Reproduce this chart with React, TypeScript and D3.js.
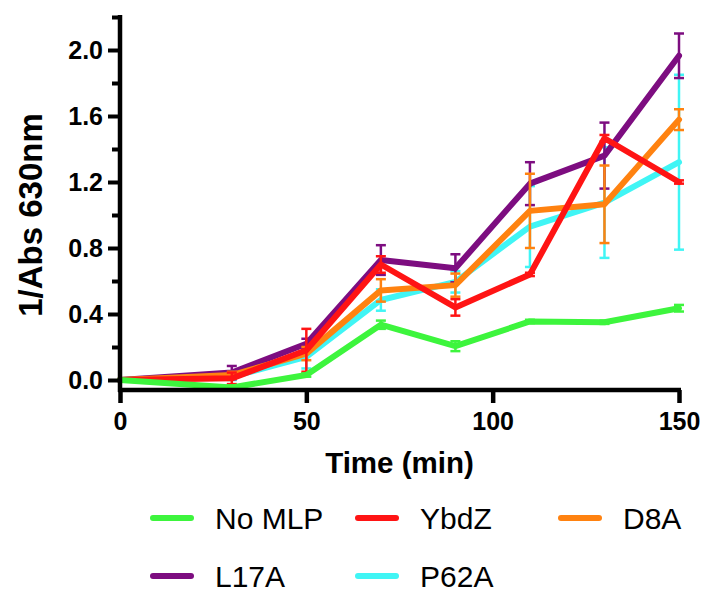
import React, { useEffect, useRef } from 'react';
import * as d3 from 'd3';

// time points (min)
const times = [0, 30, 50, 70, 90, 110, 130, 150];

const seriesNames = ['No MLP', 'YbdZ', 'D8A', 'L17A', 'P62A'];
const seriesColors = ['#3df53d', '#ff1414', '#ff8210', '#7d0d80', '#40f5f5'];

// 1/Abs 630nm
const noMlp = [0, -0.045, 0.03, 0.335, 0.205, 0.355, 0.35, 0.435];
const ybdZ = [0, 0.01, 0.18, 0.7, 0.44, 0.64, 1.465, 1.2];
const d8a = [0, 0.03, 0.16, 0.543, 0.575, 1.025, 1.065, 1.578];
const l17a = [0, 0.045, 0.22, 0.727, 0.677, 1.19, 1.36, 1.965];
const p62a = [0, 0.02, 0.14, 0.485, 0.595, 0.93, 1.075, 1.32];

// error bars (+/-)
const noMlpErr = [0, 0.012, 0.01, 0.025, 0.03, 0.01, 0.01, 0.02];
const ybdZErr = [0, 0.035, 0.13, 0.05, 0.05, 0.01, 0.02, 0.01];
const d8aErr = [0, 0.02, 0.04, 0.068, 0.07, 0.225, 0.235, 0.063];
const l17aErr = [0, 0.04, 0.03, 0.09, 0.085, 0.13, 0.2, 0.135];
const p62aErr = [0, 0.02, 0.07, 0.065, 0.065, 0.245, 0.335, 0.53];

const seriesValues = [noMlp, ybdZ, d8a, l17a, p62a];
const seriesErrors = [noMlpErr, ybdZErr, d8aErr, l17aErr, p62aErr];

const xTicks = [0, 50, 100, 150];
const yTicks = [0, 0.4, 0.8, 1.2, 1.6, 2.0];
const yMinorTicks = [0.2, 0.6, 1.0, 1.4, 1.8, 2.2];

const FONT = '"Liberation Sans", Arial, Helvetica, sans-serif';

const App: React.FC = () => {
    const chartRef = useRef<SVGSVGElement>(null);

    useEffect(() => {
        const svg = d3.select(chartRef.current);
        svg.selectAll('*').remove();

        const x = d3.scaleLinear().domain([0, 150]).range([120, 679]);
        const y = d3.scaleLinear().domain([0, 2.2]).range([380, 17]);
        const xAxisY = y(0) + 10;

        // series, last legend entry at the bottom
        const order = d3.range(seriesNames.length).reverse();
        order.forEach(i => {
            const vals = seriesValues[i];
            const errs = seriesErrors[i];
            const color = seriesColors[i];
            const g = svg.append('g');

            const line = d3.line<number>()
                .x((_, j) => x(times[j]))
                .y(d => y(d));

            g.append('path')
                .datum(vals)
                .attr('d', line)
                .attr('fill', 'none')
                .attr('stroke', color)
                .attr('stroke-width', 6)
                .attr('stroke-linejoin', 'round')
                .attr('stroke-linecap', 'round');

            const pts = times.map((t, j) => ({ t, v: vals[j], e: errs[j] })).filter(p => p.e > 0);

            g.selectAll('.bar')
                .data(pts)
                .enter().append('line')
                .attr('x1', d => x(d.t))
                .attr('x2', d => x(d.t))
                .attr('y1', d => y(d.v - d.e))
                .attr('y2', d => y(d.v + d.e))
                .attr('stroke', color)
                .attr('stroke-width', 2.5);

            [-1, 1].forEach(s => {
                g.selectAll('.cap' + s)
                    .data(pts)
                    .enter().append('line')
                    .attr('x1', d => x(d.t) - 5)
                    .attr('x2', d => x(d.t) + 5)
                    .attr('y1', d => y(d.v + s * d.e))
                    .attr('y2', d => y(d.v + s * d.e))
                    .attr('stroke', color)
                    .attr('stroke-width', 2.5);
            });
        });

        // y axis
        const yAxis = svg.append('g')
            .attr('transform', `translate(${x(0)},0)`)
            .call(d3.axisLeft(y).tickValues(yTicks).tickSize(12).tickPadding(5)
                .tickFormat(d => d3.format('.1f')(d as number)));
        svg.append('g')
            .attr('transform', `translate(${x(0)},0)`)
            .call(d3.axisLeft(y).tickValues(yMinorTicks).tickSize(8).tickFormat(() => ''))
            .call(g => g.select('.domain').remove())
            .selectAll('line').attr('stroke-width', 4);
        yAxis.select('.domain').remove();
        yAxis.selectAll('line').attr('stroke-width', 4);
        yAxis.selectAll('text')
            .attr('font-family', FONT)
            .attr('font-weight', 'bold')
            .attr('font-size', 25)
            .attr('fill', '#000');

        // x axis
        const xAxis = svg.append('g')
            .attr('transform', `translate(0,${xAxisY})`)
            .call(d3.axisBottom(x).tickValues(xTicks).tickSize(13).tickPadding(9));
        xAxis.select('.domain').remove();
        xAxis.selectAll('line').attr('stroke-width', 4.5);
        xAxis.selectAll('text')
            .attr('font-family', FONT)
            .attr('font-weight', 'bold')
            .attr('font-size', 25)
            .attr('fill', '#000');

        svg.append('line')
            .attr('x1', x(0)).attr('x2', x(0))
            .attr('y1', y(2.2) - 2).attr('y2', xAxisY + 2)
            .attr('stroke', '#000').attr('stroke-width', 4.5);
        svg.append('line')
            .attr('x1', x(0) - 2).attr('x2', x(150) + 2)
            .attr('y1', xAxisY).attr('y2', xAxisY)
            .attr('stroke', '#000').attr('stroke-width', 4.5);

        // titles
        svg.append('text')
            .attr('transform', 'translate(30,215) rotate(-90)')
            .attr('text-anchor', 'middle')
            .attr('dominant-baseline', 'central')
            .attr('font-family', FONT)
            .attr('font-weight', 'bold')
            .attr('font-size', 33)
            .text('1/Abs 630nm');
        svg.append('text')
            .attr('x', (x(0) + x(150)) / 2)
            .attr('y', 473)
            .attr('text-anchor', 'middle')
            .attr('font-family', FONT)
            .attr('font-weight', 'bold')
            .attr('font-size', 29.5)
            .text('Time (min)');

        // legend
        const cols = [150, 355, 558];
        const rows = [518, 576];
        const legend = svg.append('g');
        seriesNames.forEach((name, i) => {
            const lx = cols[i % 3];
            const ly = rows[Math.floor(i / 3)];
            legend.append('line')
                .attr('x1', lx + 3).attr('x2', lx + 41)
                .attr('y1', ly).attr('y2', ly)
                .attr('stroke', seriesColors[i])
                .attr('stroke-width', 6)
                .attr('stroke-linecap', 'round');
            legend.append('text')
                .attr('x', lx + 65)
                .attr('y', ly)
                .attr('dy', '0.36em')
                .attr('font-family', FONT)
                .attr('font-size', 30)
                .text(name);
        });
    }, []);

    return (
        <svg ref={chartRef} width="712" height="596"
            style={{ position: 'absolute', left: 0, top: 0, background: '#fff' }}></svg>
    );
};

export default App;
